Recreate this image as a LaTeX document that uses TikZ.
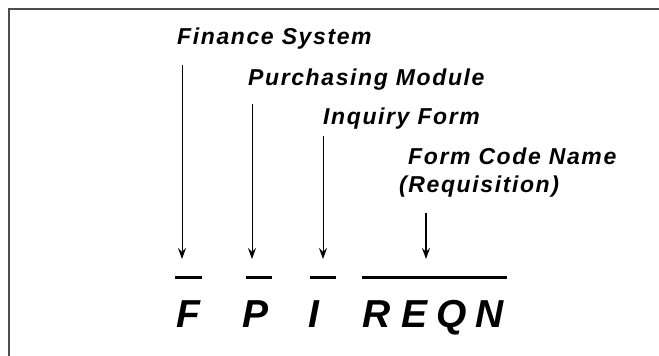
\documentclass[tikz,border=0pt]{standalone}
\usepackage{fontspec}
\setmainfont{Liberation Sans}
\newfontfamily\lblfont[LetterSpace=7]{Liberation Sans}
\usepackage{tikz}
\usetikzlibrary{arrows.meta}

\begin{document}
\begin{tikzpicture}[x=1pt, y=-1pt,
    lbl/.style={anchor=base west, inner sep=0pt, font=\lblfont\bfseries\itshape\fontsize{23}{27}\selectfont},
    code/.style={anchor=base, inner sep=0pt, font=\bfseries\itshape\fontsize{39}{44}\selectfont},
    arr/.style={-{Stealth[length=11pt, width=8pt, inset=4pt]}, line width=1pt},
    bar/.style={line width=3pt}]
    \useasboundingbox (0,0) rectangle (659,356);
    % frame
    \draw[black!70, line width=2pt] (659,8.5) -- (9,8.5) -- (9,356);

    % labels
    \node[lbl] (fs) at (177,44) {Finance System};
    \node[lbl] (pm) at (248,85) {Purchasing Module};
    \node[lbl] (iq) at (323,124) {Inquiry Form};
    \node[lbl] (fc) at (408,164) {Form Code Name};
    \node[lbl] (rq) at (399,192) {(Requisition)};

    % code letters
    \node[code] (f) at (188,327) {F};
    \node[code] (p) at (256,327) {P};
    \node[code] (i) at (314,327) {I};
    \node[code] (r) at (377,327) {R};
    \node[code] (e) at (415,327) {E};
    \node[code] (q) at (452,327) {Q};
    \node[code] (n) at (490,327) {N};

    % arrow ends
    \coordinate (fa) at (182,65);  \coordinate (fb) at (182,259);
    \coordinate (pa) at (252,104); \coordinate (pb) at (252,259);
    \coordinate (ia) at (323,136); \coordinate (ib) at (323,259);
    \coordinate (ra) at (426,213); \coordinate (rb) at (426,259);
    \draw[arr] (fa) -- (fb);
    \draw[arr] (pa) -- (pb);
    \draw[arr] (ia) -- (ib);
    \draw[arr, line width=2pt] (ra) -- (rb);

    % bars
    \draw[bar] (175,277) -- (202,277);
    \draw[bar] (246,277) -- (272,277);
    \draw[bar] (310,277) -- (336,277);
    \draw[bar] (362,277) -- (507,277);
\end{tikzpicture}
\end{document}
